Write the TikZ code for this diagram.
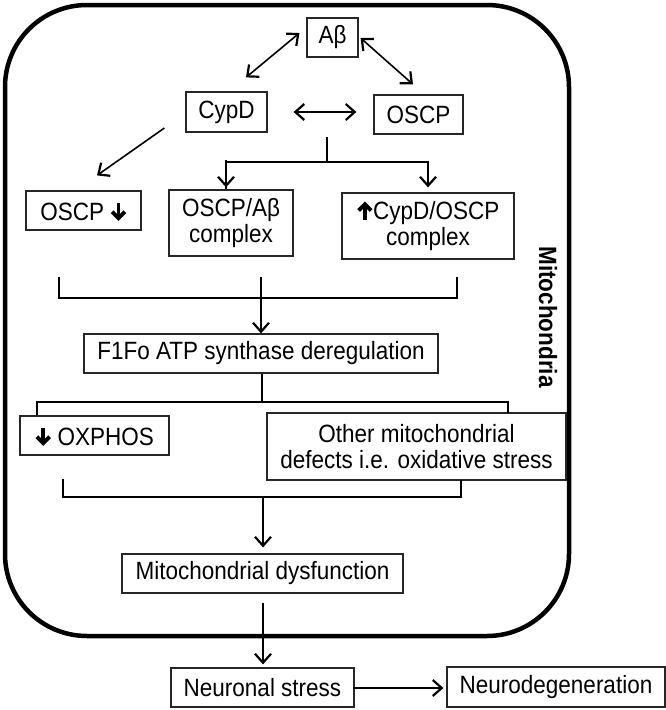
\documentclass[tikz,border=0pt]{standalone}
\usepackage{fontspec}
\setmainfont[FakeStretch=0.9]{Liberation Sans}
\usetikzlibrary{arrows.meta,calc}
\newcommand\dnarr{\tikz[baseline=0pt,x=1pt,y=1pt,line width=3.8pt]{\draw (0,17.5)--(0,3);\draw[line join=miter,miter limit=10] (-6.3,8.3)--(0,2)--(6.3,8.3);}}
\newcommand\uparr{\tikz[baseline=0pt,x=1pt,y=1pt,line width=3.8pt]{\draw (0,0)--(0,14.5);\draw[line join=miter,miter limit=10] (-6.3,9.2)--(0,15.5)--(6.3,9.2);}}
\begin{document}
\begin{tikzpicture}[x=1pt,y=-1pt,
  box/.style={draw=black!85,line width=1.2pt,inner sep=0pt,align=center,font=\fontsize{25}{25.5}\selectfont},
  conn/.style={line width=1.6pt},
  tipb/.tip={Straight Barb[length=9pt,width=16pt,line width=2.2pt]},
  arr/.style={conn,-tipb},
  darr/.style={conn,tipb-tipb}]
\useasboundingbox (0,0) rectangle (666,710);
\draw[line width=4.5pt,rounded corners=82pt] (5,5) rectangle (569,636);
\node[rotate=-90,font=\fontsize{25}{25}\selectfont\bfseries] (mito) at (548,317) {Mitochondria};

\node[box,minimum width=51pt,minimum height=39pt] (ab) at (332.5,37.5) {Aβ};
\node[box,minimum width=81pt,minimum height=40pt] (cypd) at (226.5,112) {CypD};
\node[box,minimum width=89pt,minimum height=39pt] (oscp) at (418.5,114.5) {OSCP};
\node[box,minimum width=115pt,minimum height=39pt] (oscpd) at (83.5,210.5) {OSCP \dnarr};
\node[box,minimum width=124pt,minimum height=66pt] (oab) at (231,223) {OSCP/Aβ\\complex};
\node[box,minimum width=172pt,minimum height=66pt] (coc) at (428,226) {\uparr CypD/OSCP\\complex};
\node[box,minimum width=354pt,minimum height=39pt] (f1fo) at (261,353.5) {F1Fo ATP synthase deregulation};
\node[box,minimum width=149pt,minimum height=39pt] (ox) at (94.5,435.5) {\dnarr\ OXPHOS};
\node[box,minimum width=299pt,minimum height=67pt] (other) at (416.5,446.5) {Other mitochondrial\\defects i.e. oxidative stress};
\node[box,minimum width=281pt,minimum height=39pt] (md) at (262.5,573.5) {Mitochondrial dysfunction};
\node[box,minimum width=183pt,minimum height=39pt] (ns) at (262.5,687.5) {Neuronal stress};
\node[box,minimum width=218pt,minimum height=40pt] (nd) at (556,687) {Neurodegeneration};

% top triangle
\draw[darr] ($(ab.west)+(-7,-4.5)$) -- ($(cypd.north)+(19.5,-14)$);
\draw[darr] ($(ab.east)+(2,0.5)$) -- ($(oscp.north)+(-5.5,-10)$);
\draw[darr] ($(cypd.east)+(26,0)$) -- ($(oscp.west)+(-17,-2.5)$);
\draw[arr] ($(cypd.west)+(-21,16)$) -- ($(oscpd.north)+(13.5,-15)$);

% branch from OSCP
\coordinate (b0) at (327,137);
\coordinate (b1) at (327,162);
\draw[conn] (b0) -- (b1);
\draw[conn] (b1) -| ($(oab.north)+(-5,0)$);
\draw[arr] ($(oab.north)+(-5,-29)$) -- ($(oab.north)+(-5,-2)$);
\draw[conn] (b1) -| ($(coc.north)+(0,-31)$);
\draw[arr] ($(coc.north)+(0,-31)$) -- ($(coc.north)+(0,-5)$);

% bracket 1
\coordinate (k1) at (59,277);
\coordinate (k2) at (457,277);
\coordinate (k3) at (261,277);
\draw[conn] (k1) -- (59,298) -- (457,298) -- (k2);
\draw[arr] (k3) -- (f1fo.north -| k3);

% split after F1Fo
\coordinate (s0) at (262,402);
\draw[conn] (f1fo.south -| s0) -- (s0);
\draw[conn] (37,415) -- (37,402) -- (508,402) -- (508,413);

% bracket 2
\coordinate (m0) at (263,497);
\draw[conn] (63,479) -- (63,497) -- (461,497) -- (461,480);
\draw[arr] (m0) -- ($(md.north -| m0)+(0,-6)$);

\draw[arr] ($(md.south -| m0)+(0,9)$) -- ($(ns.north -| m0)+(0,-3)$);
\draw[arr] ($(ns.east)+(-2,0.5)$) -- ($(nd.west)+(-3,1)$);
\end{tikzpicture}
\end{document}
